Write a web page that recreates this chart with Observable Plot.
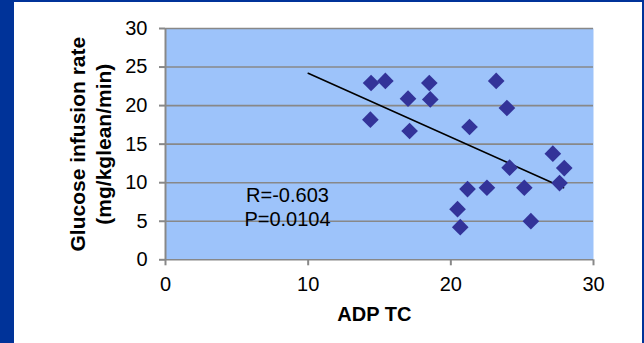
<!DOCTYPE html>
<html><head><meta charset="utf-8">
<script src="https://cdn.jsdelivr.net/npm/d3@7"></script>
<script src="https://cdn.jsdelivr.net/npm/@observablehq/plot@0.6"></script>
<style>
html,body{margin:0;padding:0;background:#fff;}
#wrap{width:644px;height:343px;box-sizing:border-box;border-left:14px solid #003399;border-top:2px solid #003399;border-right:2px solid #003399;background:#fff;overflow:hidden;}
#wrap svg{display:block;}
</style></head><body><div id="wrap"></div>
<script>
// Data
const adpTC       = [14.41, 15.41, 18.49, 17.00, 18.56, 14.36, 17.11, 23.18, 23.93, 21.31, 27.15, 27.95, 27.62, 24.12, 21.17, 22.53, 25.15, 20.47, 20.66, 25.61];
const glucoseRate = [22.93, 23.20, 22.93, 20.90, 20.80, 18.18, 16.70, 23.20, 19.69, 17.22, 13.77, 11.90,  9.95, 11.95,  9.17,  9.35,  9.35,  6.57,  4.23,  5.01];
const trendX = [10, 27.9];
const trendY = [24.2, 9.35];
const xTicks = [0, 10, 20, 30];
const yTicks = [0, 5, 10, 15, 20, 25, 30];
const statsLines = ["R=-0.603", "P=0.0104"];
const statsPos = [8.55, 6.92];
const xTitle = "ADP TC";
const yTitleLines = ["Glucose infusion rate", "(mg/kglean/min)"];

const points = adpTC.map((x, i) => ({x, y: glucoseRate[i]}));
const trend = trendX.map((x, i) => ({x, y: trendY[i]}));

const gray = "#888888";
const chart = Plot.plot({
  width: 628,
  height: 341,
  marginLeft: 151,
  marginRight: 49,
  marginTop: 26,
  marginBottom: 83.7,
  style: {fontFamily: "'Liberation Sans', Arial, sans-serif", fontSize: "20px", background: "white", color: "black"},
  x: {domain: [0, 30]},
  y: {domain: [0, 30]},
  marks: [
    Plot.frame({fill: "#9dc3fa", stroke: "none"}),
    Plot.ruleY(yTicks, {stroke: gray, strokeWidth: 1.6}),
    Plot.ruleX([0], {stroke: gray, strokeWidth: 2}),
    Plot.axisX({ticks: xTicks, tickSize: 6, tickPadding: 11, stroke: gray, strokeWidth: 2, fill: "black", fontSize: 20, label: null}),
    Plot.axisY({ticks: yTicks, tickSize: 6, tickPadding: 12, stroke: gray, strokeWidth: 2, fill: "black", fontSize: 20, label: null}),
    Plot.line(trend, {x: "x", y: "y", stroke: "black", strokeWidth: 1.6}),
    Plot.dot(points, {x: "x", y: "y", symbol: "diamond2", r: 7.5, fill: "#333399", stroke: "none"}),
    Plot.text([statsLines.join("\n")], {x: statsPos[0], y: statsPos[1], fontSize: 20, lineHeight: 1.165, textAnchor: "middle", lineAnchor: "middle", fill: "black"}),
    Plot.text([xTitle], {x: 14.64, frameAnchor: "bottom", lineAnchor: "top", dy: 47, fontSize: 20, fontWeight: "bold", fill: "black"}),
    Plot.text([yTitleLines.join("\n")], {frameAnchor: "left", rotate: -90, dx: -75.5, lineAnchor: "middle", textAnchor: "middle", lineHeight: 1.2, fontSize: 21, fontWeight: "bold", fill: "black"})
  ]
});
document.getElementById("wrap").appendChild(chart);
</script>
</body></html>
